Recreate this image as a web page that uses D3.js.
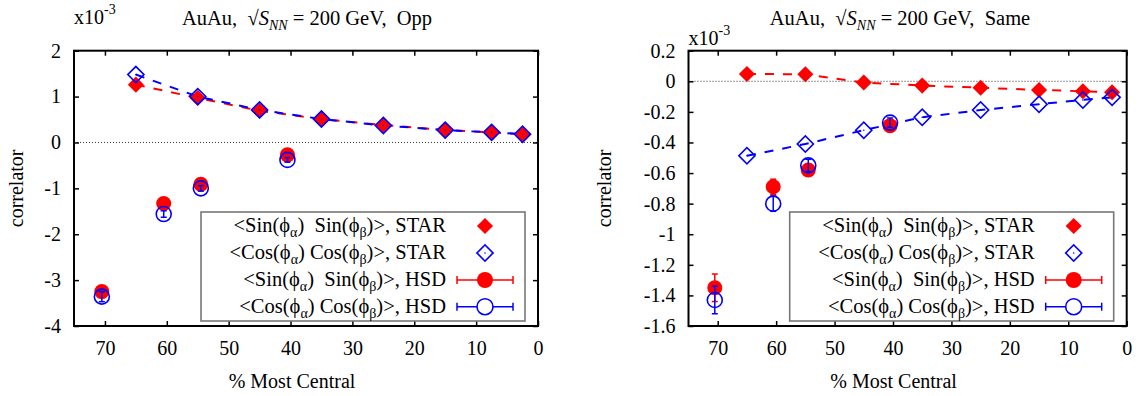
<!DOCTYPE html>
<html>
<head>
<meta charset="utf-8" />
<title>AuAu correlators, Opp / Same</title>
<script src="https://cdnjs.cloudflare.com/ajax/libs/d3/7.8.5/d3.min.js"></script>
<style>
	body { margin: 0; background: #fff; }
	svg text { font-family: "Liberation Serif", "Times New Roman", serif; white-space: pre; }
</style>
</head>
<body>
<script>
// centrality (% most central)
var starCent = [65, 55, 45, 35, 25, 15, 7.5, 2.5];
var hsdCent = [70.5, 60.5, 54.5, 40.5];

// Opp charge (x10^-3)
var oppStarSin = [1.26, 0.97, 0.69, 0.51, 0.38, 0.27, 0.22, 0.18];
var oppStarCos = [1.48, 1.00, 0.71, 0.51, 0.37, 0.27, 0.22, 0.18];
var oppHsdSin = [-3.25, -1.33, -0.91, -0.27];
var oppHsdSinErr = [0.10, 0.07, 0.06, 0.05];
var oppHsdCos = [-3.36, -1.56, -1.00, -0.38];
var oppHsdCosErr = [0.11, 0.07, 0.06, 0.05];

// Same charge (x10^-3)
var sameStarSin = [0.048, 0.046, -0.008, -0.028, -0.042, -0.057, -0.065, -0.072];
var sameStarCos = [-0.487, -0.41, -0.32, -0.235, -0.188, -0.15, -0.122, -0.105];
var sameHsdSin = [-1.35, -0.69, -0.58, -0.29];
var sameHsdSinErr = [0.09, 0.05, 0.04, 0.03];
var sameHsdCos = [-1.43, -0.80, -0.55, -0.27];
var sameHsdCosErr = [0.09, 0.05, 0.04, 0.03];

// ticks
var xTicks = [70, 60, 50, 40, 30, 20, 10, 0];
var oppYTicks = [2, 1, 0, -1, -2, -3, -4];
var sameYTicks = [0.2, 0, -0.2, -0.4, -0.6, -0.8, -1, -1.2, -1.4, -1.6];

var RED = "#ff0000", BLUE = "#0000ff";
var DSIZE = 130; // tamaño rombo

var svg = d3.select("body").append("svg")
	.attr("width", 1143)
	.attr("height", 396);

svg.append("rect").attr("width", 1143).attr("height", 396).attr("fill", "#fff");

function diamond(sel, size) {
	return sel.attr("d", d3.symbol().type(d3.symbolSquare).size(size));
}

function grafico(cfg) {
	var top = 50.7, bottom = 326;
	var x = d3.scaleLinear().domain([75, 0]).range([cfg.left, cfg.right]);
	var y = d3.scaleLinear().domain(cfg.yDomain).range([bottom, top]);
	var g = svg.append("g");

	// linea del cero
	g.append("line")
		.attr("x1", cfg.left).attr("x2", cfg.right)
		.attr("y1", y(0)).attr("y2", y(0))
		.attr("stroke", "#000").attr("stroke-width", 0.8)
		.attr("stroke-dasharray", "1,2");

	// ejes
	var fmt = function (d) { return String(d); };
	var ax = [
		g.append("g").attr("transform", "translate(0," + bottom + ")")
			.call(d3.axisBottom(x).tickValues(xTicks).tickSizeInner(-5).tickSizeOuter(0).tickPadding(15).tickFormat(fmt)),
		g.append("g").attr("transform", "translate(0," + top + ")")
			.call(d3.axisTop(x).tickValues(xTicks).tickSizeInner(-5).tickSizeOuter(0).tickFormat("")),
		g.append("g").attr("transform", "translate(" + cfg.left + ",0)")
			.call(d3.axisLeft(y).tickValues(cfg.yTicks).tickSizeInner(-5).tickSizeOuter(0).tickPadding(13).tickFormat(fmt)),
		g.append("g").attr("transform", "translate(" + cfg.right + ",0)")
			.call(d3.axisRight(y).tickValues(cfg.yTicks).tickSizeInner(-5).tickSizeOuter(0).tickFormat(""))
	];
	ax.forEach(function (a) {
		a.attr("font-family", null).attr("font-size", 20);
		a.select(".domain").remove();
		a.selectAll(".tick line").attr("stroke", "#000").attr("stroke-width", 1.5);
		a.selectAll(".tick text").attr("fill", "#000");
	});

	// marco
	g.append("rect")
		.attr("x", cfg.left).attr("y", top)
		.attr("width", cfg.right - cfg.left).attr("height", bottom - top)
		.attr("fill", "none").attr("stroke", "#000").attr("stroke-width", 2);

	// titulos
	var t = g.append("text").attr("x", cfg.titleX).attr("y", 25)
		.attr("text-anchor", "middle").attr("font-size", 20.5);
	t.append("tspan").text("AuAu,  \u221A");
	t.append("tspan").attr("font-style", "italic").text("S");
	t.append("tspan").attr("font-style", "italic").attr("font-size", 14).attr("dy", 5).text("NN");
	t.append("tspan").attr("dy", -5).text(" = 200 GeV,  " + cfg.name);

	var e = g.append("text").attr("x", cfg.left).attr("y", cfg.expY).attr("font-size", 20);
	e.append("tspan").text("x10");
	e.append("tspan").attr("font-size", 14).attr("dy", -10).text("-3");

	g.append("text")
		.attr("transform", "translate(" + cfg.yLabelX + "," + ((top + bottom) / 2) + ") rotate(-90)")
		.attr("text-anchor", "middle").attr("font-size", 20)
		.text("correlator");

	g.append("text")
		.attr("x", (cfg.left + cfg.right) / 2 - 14).attr("y", 388)
		.attr("text-anchor", "middle").attr("font-size", 20)
		.text("% Most Central");

	// lineas discontinuas STAR
	var line = d3.line().x(function (d) { return x(d[0]); }).y(function (d) { return y(d[1]); });
	var sinPts = d3.zip(starCent, cfg.starSin);
	var cosPts = d3.zip(starCent, cfg.starCos);
	g.append("path").datum(sinPts).attr("d", line)
		.attr("fill", "none").attr("stroke", RED).attr("stroke-width", 2).attr("stroke-dasharray", "9,9");
	g.append("path").datum(cosPts).attr("d", line)
		.attr("fill", "none").attr("stroke", BLUE).attr("stroke-width", 2).attr("stroke-dasharray", "9,9");

	// STAR sin: rombo rojo
	g.selectAll(".ssin").data(sinPts).enter().append("path")
		.call(diamond, DSIZE)
		.attr("transform", function (d) { return "translate(" + x(d[0]) + "," + y(d[1]) + ") rotate(45)"; })
		.attr("fill", RED);
	// STAR cos: rombo azul
	g.selectAll(".scos").data(cosPts).enter().append("path")
		.call(diamond, DSIZE)
		.attr("transform", function (d) { return "translate(" + x(d[0]) + "," + y(d[1]) + ") rotate(45)"; })
		.attr("fill", "none").attr("stroke", BLUE).attr("stroke-width", 1.6);
	g.selectAll(".scosdot").data(cosPts).enter().append("circle")
		.attr("cx", function (d) { return x(d[0]); })
		.attr("cy", function (d) { return y(d[1]); })
		.attr("r", 0.8).attr("fill", BLUE);

	// HSD
	function hsd(vals, errs, color, filled) {
		var pts = hsdCent.map(function (c, i) { return [c, vals[i], errs[i]]; });
		g.selectAll(null).data(pts).enter().append("circle")
			.attr("cx", function (d) { return x(d[0]); })
			.attr("cy", function (d) { return y(d[1]); })
			.attr("r", 7.5)
			.attr("fill", filled ? color : "none")
			.attr("stroke", filled ? "none" : color).attr("stroke-width", 1.6);
		var eb = g.selectAll(null).data(pts).enter().append("g").attr("stroke", color).attr("stroke-width", 1.5);
		eb.append("line")
			.attr("x1", function (d) { return x(d[0]); }).attr("x2", function (d) { return x(d[0]); })
			.attr("y1", function (d) { return y(d[1] - d[2]); }).attr("y2", function (d) { return y(d[1] + d[2]); });
		eb.append("line")
			.attr("x1", function (d) { return x(d[0]) - 3; }).attr("x2", function (d) { return x(d[0]) + 3; })
			.attr("y1", function (d) { return y(d[1] - d[2]); }).attr("y2", function (d) { return y(d[1] - d[2]); });
		eb.append("line")
			.attr("x1", function (d) { return x(d[0]) - 3; }).attr("x2", function (d) { return x(d[0]) + 3; })
			.attr("y1", function (d) { return y(d[1] + d[2]); }).attr("y2", function (d) { return y(d[1] + d[2]); });
	}
	hsd(cfg.hsdSin, cfg.hsdSinErr, RED, true);
	hsd(cfg.hsdCos, cfg.hsdCosErr, BLUE, false);

	leyenda(g, cfg.right - 13);
}

function labelText(sel, fn, sep, src) {
	sel.append("tspan").text("<" + fn + "(\u03D5");
	sel.append("tspan").attr("font-size", 14).attr("dy", 5).text("\u03B1");
	sel.append("tspan").attr("dy", -5).text(")" + sep + fn + "(\u03D5");
	sel.append("tspan").attr("font-size", 14).attr("dy", 5).text("\u03B2");
	sel.append("tspan").attr("dy", -5).text(")>, " + src);
}

function leyenda(g, right) {
	var w = 324, top = 212, h = 109;
	var rows = [226, 253, 280, 306.7];
	g.append("rect")
		.attr("x", right - w).attr("y", top).attr("width", w).attr("height", h)
		.attr("fill", "none").attr("stroke", "#777").attr("stroke-width", 1.6);

	var items = [
		["Sin", "  ", "STAR"], ["Cos", " ", "STAR"], ["Sin", "  ", "HSD"], ["Cos", " ", "HSD"]
	];
	items.forEach(function (it, i) {
		var t = g.append("text").attr("x", right - 79).attr("y", rows[i] + 6)
			.attr("text-anchor", "end").attr("font-size", 20.5);
		labelText(t, it[0], it[1], it[2]);
	});

	var sx = right - 40;
	g.append("path").call(diamond, DSIZE)
		.attr("transform", "translate(" + sx + "," + rows[0] + ") rotate(45)").attr("fill", RED);
	g.append("path").call(diamond, DSIZE)
		.attr("transform", "translate(" + sx + "," + rows[1] + ") rotate(45)")
		.attr("fill", "none").attr("stroke", BLUE).attr("stroke-width", 1.6);
	g.append("circle").attr("cx", sx).attr("cy", rows[1]).attr("r", 0.8).attr("fill", BLUE);

	[[rows[2], RED, true], [rows[3], BLUE, false]].forEach(function (r) {
		var eg = g.append("g").attr("stroke", r[1]).attr("stroke-width", 1.5);
		eg.append("line").attr("x1", sx - 28).attr("x2", sx + 28).attr("y1", r[0]).attr("y2", r[0]);
		eg.append("line").attr("x1", sx - 28).attr("x2", sx - 28).attr("y1", r[0] - 4).attr("y2", r[0] + 4);
		eg.append("line").attr("x1", sx + 28).attr("x2", sx + 28).attr("y1", r[0] - 4).attr("y2", r[0] + 4);
		g.append("circle").attr("cx", sx).attr("cy", r[0]).attr("r", 8)
			.attr("fill", r[2] ? r[1] : "#fff")
			.attr("stroke", r[2] ? "none" : r[1]).attr("stroke-width", 1.6);
	});
}

grafico({
	name: "Opp", left: 74, right: 538, yDomain: [-4, 2], yTicks: oppYTicks,
	titleX: 307, expY: 24, yLabelX: 23,
	starSin: oppStarSin, starCos: oppStarCos,
	hsdSin: oppHsdSin, hsdSinErr: oppHsdSinErr, hsdCos: oppHsdCos, hsdCosErr: oppHsdCosErr
});

grafico({
	name: "Same", left: 688.5, right: 1126.7, yDomain: [-1.6, 0.2], yTicks: sameYTicks,
	titleX: 900, expY: 45, yLabelX: 611,
	starSin: sameStarSin, starCos: sameStarCos,
	hsdSin: sameHsdSin, hsdSinErr: sameHsdSinErr, hsdCos: sameHsdCos, hsdCosErr: sameHsdCosErr
});
</script>
</body>
</html>
